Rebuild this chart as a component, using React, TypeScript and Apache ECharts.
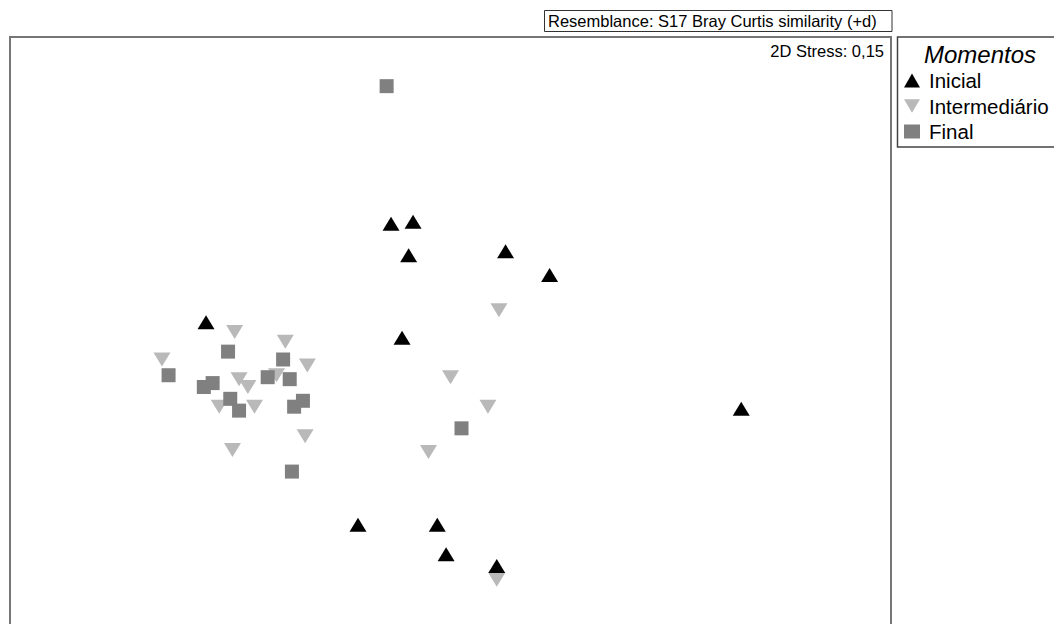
import React, { useEffect, useRef } from "react";
import * as echarts from "echarts";

// NMDS coordinates (MDS1, MDS2)
const inicialX = [-1.11, -0.27, -0.17, -0.19, 0.25, 0.45, -0.22, -0.42, -0.06, -0.02, 0.21, 1.32];
const inicialY = [0.05, 0.55, 0.56, 0.39, 0.41, 0.29, -0.03, -0.98, -0.98, -1.13, -1.19, -0.39];

const intermX = [-0.98, -1.31, -0.75, -0.65, -0.79, -0.96, -0.92, -1.05, -0.89, -0.66, -0.99, 0.22, 0.0, 0.17, -0.1, 0.21];
const intermY = [0.0, -0.14, -0.05, -0.17, -0.22, -0.24, -0.28, -0.38, -0.38, -0.53, -0.6, 0.11, -0.23, -0.38, -0.61, -1.26];

const finalX = [-1.01, -1.28, -0.76, -0.83, -0.73, -1.12, -1.08, -1.0, -0.96, -0.71, -0.67, -0.72, -0.29, 0.05];
const finalY = [-0.1, -0.22, -0.14, -0.23, -0.24, -0.28, -0.26, -0.34, -0.4, -0.38, -0.35, -0.71, 1.25, -0.49];

const groupNames = ["Inicial", "Intermediário", "Final"];
const legendTitle = "Momentos";
const resemblanceText = "Resemblance: S17 Bray Curtis similarity (+d)";
const stressText = "2D Stress: 0,15";

const xRange = [-2, 2];
const yRange = [-1.48, 1.5];

const DOWN_TRI = "path://M0,0L10,0L5,8.5Z";

function pairs(xs: number[], ys: number[]) {
  return xs.map((x, i) => [x, ys[i]]);
}

export default function App() {
  const ref = useRef<HTMLDivElement>(null);

  useEffect(() => {
    if (!ref.current) return;
    const chart = echarts.init(ref.current, null, { renderer: "svg" });
    const font = "'Liberation Sans', Arial, sans-serif";
    chart.setOption({
      animation: false,
      backgroundColor: "#ffffff",
      textStyle: { fontFamily: font },
      grid: {
        left: 10,
        top: 37,
        width: 881,
        height: 586,
        show: false,
      },
      xAxis: {
        type: "value",
        min: xRange[0],
        max: xRange[1],
        axisLine: { show: false },
        axisTick: { show: false },
        axisLabel: { show: false },
        splitLine: { show: false },
      },
      yAxis: {
        type: "value",
        min: yRange[0],
        max: yRange[1],
        axisLine: { show: false },
        axisTick: { show: false },
        axisLabel: { show: false },
        splitLine: { show: false },
      },
      legend: {
        orient: "vertical",
        left: 904,
        top: 70,
        padding: 0,
        itemWidth: 16,
        itemHeight: 14,
        itemGap: 4.5,
        selectedMode: false,
        textStyle: {
          fontFamily: font,
          fontSize: 20.5,
          color: "#000",
          lineHeight: 20,
          padding: [0, 0, 0, 4],
        },
        data: [
          { name: groupNames[0], icon: "triangle", itemStyle: { color: "#000000", opacity: 1 } },
          { name: groupNames[1], icon: DOWN_TRI, itemStyle: { color: "#b9b9b9", opacity: 1 } },
          { name: groupNames[2], icon: "rect", itemStyle: { color: "#808080", opacity: 1 } },
        ],
      },
      graphic: [
        {
          type: "polyline",
          shape: { points: [[10, 624], [10, 37], [891, 37], [891, 624]] },
          style: { fill: "none", stroke: "#767676", lineWidth: 2 },
          z: 1,
        },
        {
          type: "rect",
          shape: { x: 544.5, y: 10.5, width: 347.5, height: 21 },
          style: { fill: "#fff", stroke: "#333", lineWidth: 1 },
        },
        {
          type: "text",
          x: 548,
          y: 21,
          style: {
            text: resemblanceText,
            font: `16.5px ${font}`,
            fill: "#000",
            verticalAlign: "middle",
          },
        },
        {
          type: "text",
          x: 884,
          y: 51,
          style: {
            text: stressText,
            font: `16.5px ${font}`,
            fill: "#000",
            align: "right",
            verticalAlign: "middle",
          },
        },
        {
          type: "rect",
          shape: { x: 897.5, y: 37, width: 170, height: 110 },
          style: { fill: "transparent", stroke: "#444", lineWidth: 1.5 },
        },
        {
          type: "text",
          x: 980,
          y: 54,
          style: {
            text: legendTitle,
            font: `italic 24px ${font}`,
            fill: "#000",
            align: "center",
            verticalAlign: "middle",
          },
        },
      ],
      series: [
        {
          name: groupNames[0],
          type: "scatter",
          symbol: "triangle",
          symbolSize: [17, 14],
          itemStyle: { color: "#000000", opacity: 1 },
          data: pairs(inicialX, inicialY),
          z: 4,
        },
        {
          name: groupNames[1],
          type: "scatter",
          symbol: DOWN_TRI,
          symbolSize: [17, 14],
          itemStyle: { color: "#b9b9b9", opacity: 1 },
          data: pairs(intermX, intermY),
          z: 2,
        },
        {
          name: groupNames[2],
          type: "scatter",
          symbol: "rect",
          symbolSize: 14,
          itemStyle: { color: "#808080", opacity: 1 },
          data: pairs(finalX, finalY),
          z: 3,
        },
      ],
    });
    return () => chart.dispose();
  }, []);

  return (
    <div
      ref={ref}
      style={{ position: "absolute", left: 0, top: 0, width: 1054, height: 624 }}
    />
  );
}
